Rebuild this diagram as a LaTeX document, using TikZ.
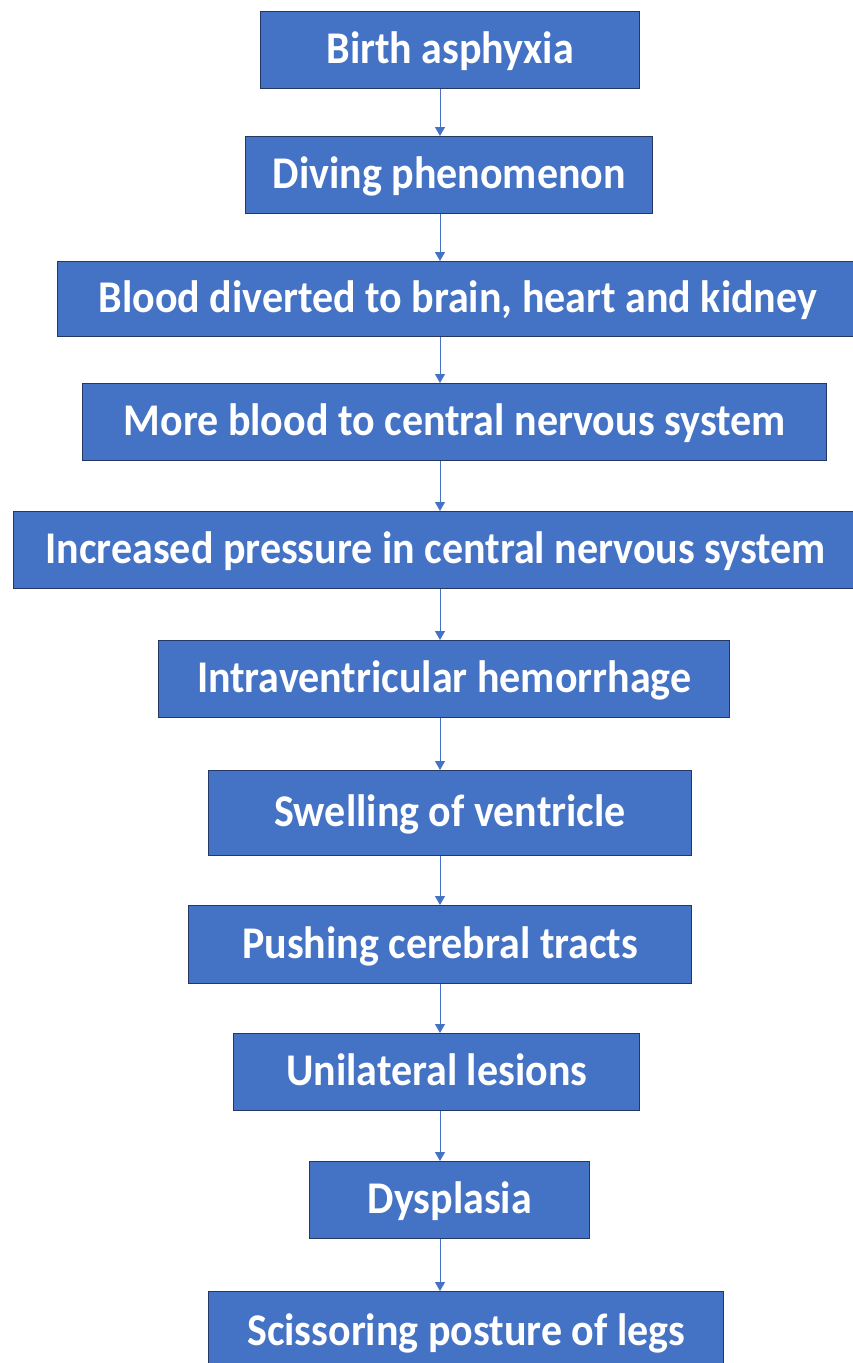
\documentclass[tikz,border=0pt]{standalone}
\usepackage{fontspec}
\setmainfont{Carlito}
\usetikzlibrary{arrows.meta}
\definecolor{boxblue}{RGB}{68,114,196}
\definecolor{boxedge}{RGB}{38,55,100}
\newcommand{\boxtext}[1]{\scalebox{1}[1.08]{#1}}
\tikzset{
  stepbox/.style={rectangle, fill=boxblue, draw=boxedge, line width=1.4pt,
    anchor=north west, inner sep=0pt, text=white, text height=30pt, text depth=3pt,
    font=\fontsize{42}{42}\selectfont\bfseries},
  arr/.style={draw=boxblue, line width=1pt, -{Triangle[width=10pt,length=9pt]}}
}
\begin{document}
\begin{tikzpicture}[x=1pt,y=-1pt]
\useasboundingbox (0,0) rectangle (853,1363);
\fill[white] (0,0) rectangle (853,1363);
\begin{scope}
\clip (0,0) rectangle (853,1363);
\node[stepbox, minimum width=379pt, minimum height=77pt] (b1) at (260,11) {\boxtext{Birth asphyxia}};
\node[stepbox, minimum width=407pt, minimum height=77pt] (b2) at (245,136) {\boxtext{Diving phenomenon}};
\node[stepbox, minimum width=800pt, minimum height=75pt] (b3) at (57,261) {\boxtext{Blood diverted to brain, heart and kidney}};
\node[stepbox, minimum width=744pt, minimum height=77pt] (b4) at (82,383) {\boxtext{More blood to central nervous system}};
\node[stepbox, minimum width=844pt, minimum height=77pt] (b5) at (13,511) {\boxtext{Increased pressure in central nervous system}};
\node[stepbox, minimum width=571pt, minimum height=77pt] (b6) at (158,640) {\boxtext{Intraventricular hemorrhage}};
\node[stepbox, minimum width=483pt, minimum height=85pt] (b7) at (208,770) {\boxtext{Swelling of ventricle}};
\node[stepbox, minimum width=503pt, minimum height=78pt] (b8) at (188,905) {\boxtext{Pushing cerebral tracts}};
\node[stepbox, minimum width=406pt, minimum height=77pt] (b9) at (233,1033) {\boxtext{Unilateral lesions}};
\node[stepbox, minimum width=280pt, minimum height=77pt] (b10) at (309,1161) {\boxtext{Dysplasia}};
\node[stepbox, minimum width=515pt, minimum height=80pt] (b11) at (208,1291) {\boxtext{Scissoring posture of legs}};
\end{scope}
\coordinate (ax) at (440,0);
\draw[arr] (b1.south -| ax) -- (b2.north -| ax);
\draw[arr] (b2.south -| ax) -- (b3.north -| ax);
\draw[arr] (b3.south -| ax) -- (b4.north -| ax);
\draw[arr] (b4.south -| ax) -- (b5.north -| ax);
\draw[arr] (b5.south -| ax) -- (b6.north -| ax);
\draw[arr] (b6.south -| ax) -- (b7.north -| ax);
\draw[arr] (b7.south -| ax) -- (b8.north -| ax);
\draw[arr] (b8.south -| ax) -- (b9.north -| ax);
\draw[arr] (b9.south -| ax) -- (b10.north -| ax);
\draw[arr] (b10.south -| ax) -- (b11.north -| ax);
\end{tikzpicture}
\end{document}
